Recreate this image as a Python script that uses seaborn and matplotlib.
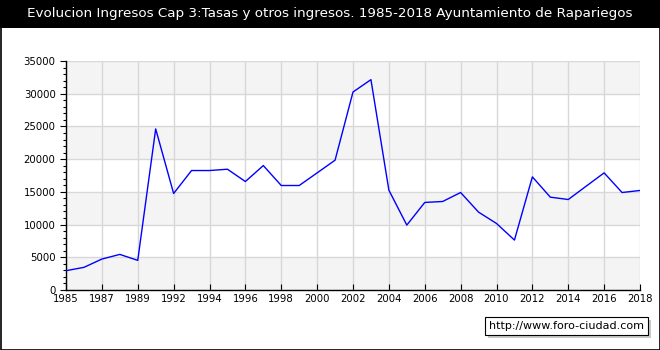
import seaborn as sns
import pandas as pd
import matplotlib.pyplot as plt
from matplotlib.patches import Rectangle
from matplotlib.ticker import MultipleLocator

sns.set_style("white")
plt.rcParams["font.family"] = ["DejaVu Sans"]

# Datos (años; falta 1990 en la serie original)
years = [1985, 1986, 1987, 1988, 1989, 1991, 1992, 1993, 1994, 1995, 1996,
         1997, 1998, 1999, 2000, 2001, 2002, 2003, 2004, 2005, 2006, 2007,
         2008, 2009, 2010, 2011, 2012, 2013, 2014, 2015, 2016, 2017, 2018]
ingresos = [2950, 3460, 4730, 5440, 4530, 24620, 14750, 18260, 18260, 18460,
            16580, 19020, 15970, 15970, 17900, 19840, 30260, 32150, 15260,
            9920, 13380, 13530, 14900, 11900, 10170, 7630, 17290, 14190,
            13830, 15870, 17900, 14900, 15210]
titulo = "Evolucion Ingresos Cap 3:Tasas y otros ingresos. 1985-2018 Ayuntamiento de Rapariegos"
web = "http://www.foro-ciudad.com"

df = pd.DataFrame({"pos": range(len(years)), "year": years, "valor": ingresos})

fig = plt.figure(figsize=(6.6, 3.5), dpi=100)
ax = fig.add_axes([66 / 660, 1 - 290 / 350, (640 - 66) / 660, (290 - 61) / 350])

# bandas alternas del fondo
for lo in range(0, 35000, 10000):
    ax.axhspan(lo, lo + 5000, color="#f4f4f4", zorder=0, lw=0)

sns.lineplot(data=df, x="pos", y="valor", color="#0000ff", lw=1, ax=ax, zorder=3)

ax.set_xlim(0, len(years) - 1)
ax.set_ylim(0, 35000)
ticks = list(range(0, len(years), 2))
ax.set_xticks(ticks)
ax.set_xticklabels([str(years[i]) for i in ticks], fontsize=7.3)
ax.yaxis.set_major_locator(MultipleLocator(5000))
ax.yaxis.set_minor_locator(MultipleLocator(1000))
ax.tick_params(axis="both", colors="black", labelcolor="black")
ax.tick_params(axis="y", labelsize=7.3, length=4, width=0.8, left=True, direction="out")
ax.tick_params(axis="y", which="minor", length=2, width=0.8, left=True, colors="black")
ax.tick_params(axis="x", length=4, width=0.8, bottom=True, direction="in", pad=3)
ax.grid(True, color="#d8d8d8", lw=1, zorder=1)
ax.set_axisbelow(True)
ax.set_xlabel("")
ax.set_ylabel("")
for s in ["top", "right"]:
    ax.spines[s].set_visible(False)
for s in ["left", "bottom"]:
    ax.spines[s].set_color("black")
    ax.spines[s].set_linewidth(1)

# barra de título y marco
fig.patches.append(Rectangle((0, 1 - 28 / 350), 1, 28 / 350, transform=fig.transFigure,
                             facecolor="black", edgecolor="none", zorder=0))
fig.patches.append(Rectangle((0.5 / 660, 0.5 / 350), 659 / 660, 349 / 350, transform=fig.transFigure,
                             facecolor="none", edgecolor="black", lw=1.2, zorder=5))
fig.text(0.5, 1 - 14 / 350, titulo, color="white", fontsize=9.7, ha="center", va="center")

# marca de agua con sombra
fig.patches.append(Rectangle((488 / 660, 1 - 338 / 350), 163 / 660, 18 / 350, transform=fig.transFigure,
                             facecolor="#c8c8c8", edgecolor="none", zorder=1))
fig.patches.append(Rectangle((485 / 660, 1 - 335 / 350), 163 / 660, 18 / 350, transform=fig.transFigure,
                             facecolor="white", edgecolor="black", lw=0.8, zorder=2))
fig.text(566.5 / 660, 1 - 326 / 350, web, fontsize=8, ha="center", va="center",
         color="black", zorder=3)

fig.savefig("out.png", dpi=100)
